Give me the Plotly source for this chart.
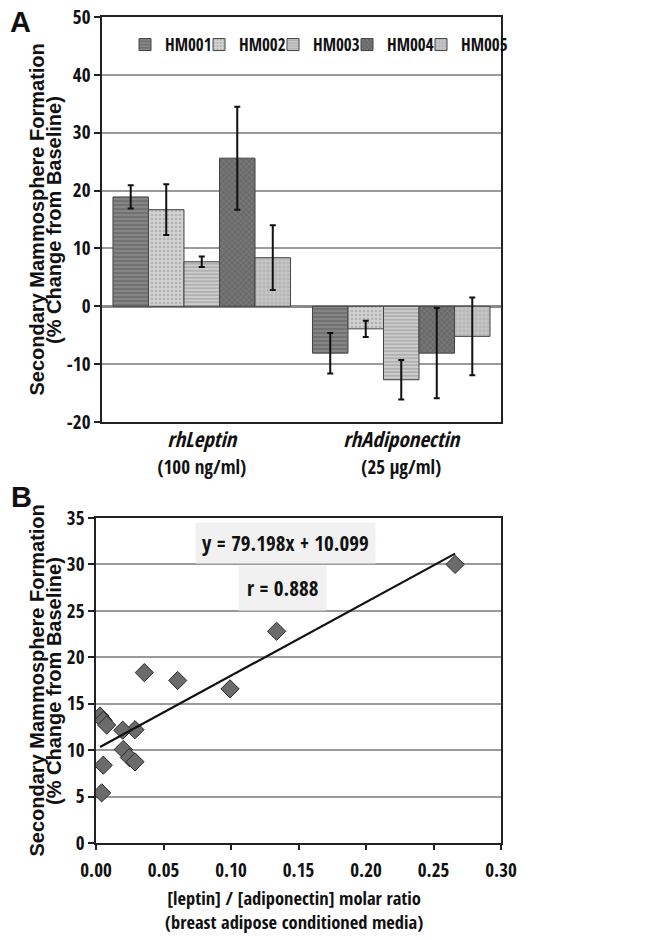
import plotly.graph_objects as go

# ---------------- data ----------------
series_names = ["HM001", "HM002", "HM003", "HM004", "HM005"]
categories = ["rhLeptin", "rhAdiponectin"]
category_labels = [
    "<i>rhLeptin</i><br><span style='font-size:19px'>(100 ng/ml)</span>",
    "<i>rhAdiponectin</i><br><span style='font-size:19px'>(25 μg/ml)</span>",
]
leptin_values = [18.9, 16.7, 7.7, 25.6, 8.4]
leptin_errors = [2.0, 4.4, 0.9, 8.9, 5.6]
adiponectin_values = [-8.1, -3.9, -12.7, -8.1, -5.2]
adiponectin_errors = [3.5, 1.4, 3.4, 7.8, 6.7]

ratio_values = [0.266, 0.1338, 0.0993, 0.0605, 0.0358, 0.0289, 0.0198, 0.0202,
                0.0247, 0.0289, 0.0030, 0.0054, 0.0079, 0.0054, 0.0042]
mammosphere_values = [30.0, 22.8, 16.6, 17.5, 18.35, 12.2, 12.15, 10.07,
                      9.2, 8.74, 13.67, 13.2, 12.7, 8.38, 5.4]
fit_slope = 79.198
fit_intercept = 10.099
r_value = 0.888

a_yticks = [-20, -10, 0, 10, 20, 30, 40, 50]
a_yticklabels = ["-20", "-10", "0", "10", "20", "30", "40", "50"]
b_xticks = [0.0, 0.05, 0.10, 0.15, 0.20, 0.25, 0.30]
b_yticks = [0, 5, 10, 15, 20, 25, 30, 35]

# ---------------- styles ----------------
W, H = 645, 940
NARROW = "Open Sans Condensed, Roboto Condensed, Liberation Sans, Arial, sans-serif"
REG = "Liberation Sans, Arial, sans-serif"
INK = "#111111"

styles = [
    dict(color="#727272", fg="#a9a9a9", shape="-", size=4, sol=0.35),
    dict(color="#d2d2d2", fg="#8f8f8f", shape=".", size=4, sol=0.35),
    dict(color="#cdcdcd", fg="#8a8a8a", shape="-", size=3.5, sol=0.45),
    dict(color="#6a6a6a", fg="#8e8e8e", shape="x", size=4, sol=0.4),
    dict(color="#c8c8c8", fg="#8a8a8a", shape="+", size=4, sol=0.3),
]

def px_x(p):
    return p / W

def px_y(p):
    return 1 - p / H

def fnt(size, fam=NARROW):
    return dict(family=fam, size=size, color=INK, weight="bold")

fig = go.Figure()

for i, name in enumerate(series_names):
    s = styles[i]
    fig.add_trace(go.Bar(
        name=name,
        x=categories,
        y=[leptin_values[i], adiponectin_values[i]],
        error_y=dict(type="data", array=[leptin_errors[i], adiponectin_errors[i]],
                     color=INK, thickness=2, width=3),
        marker=dict(color=s["color"], line=dict(color="#444444", width=1),
                    pattern=dict(shape=s["shape"], fgcolor=s["fg"], bgcolor=s["color"],
                                 size=s["size"], solidity=s["sol"])),
        legendwidth=(29 if i < len(series_names) - 1 else 60),
        xaxis="x", yaxis="y",
    ))

fig.add_trace(go.Scatter(
    x=ratio_values, y=mammosphere_values, mode="markers",
    marker=dict(symbol="diamond", size=14, color="#6b6b6b",
                line=dict(color="#2a2a2a", width=1)),
    xaxis="x2", yaxis="y2", showlegend=False,
))
x_lo, x_hi = min(ratio_values), max(ratio_values)
fig.add_trace(go.Scatter(
    x=[x_lo, x_hi], y=[fit_slope * x_lo + fit_intercept, fit_slope * x_hi + fit_intercept],
    mode="lines", line=dict(color=INK, width=2.2),
    xaxis="x2", yaxis="y2", showlegend=False,
))

axis_common = dict(showline=True, linecolor="#222222", linewidth=1.5, mirror=True,
                   automargin=False, ticklabeloverflow="allow", tickfont=fnt(19))

fig.update_layout(
    width=W, height=H,
    margin=dict(l=0, r=0, t=0, b=0),
    paper_bgcolor="white", plot_bgcolor="white",
    barmode="group", bargap=0.11, bargroupgap=0,
    font=fnt(19),
    xaxis=dict(domain=[px_x(102), px_x(501)], anchor="y", ticks="",
               tickvals=categories, ticktext=category_labels, showgrid=False,
               ticklabelstandoff=-2, **{**axis_common, "tickfont": fnt(21)}),
    yaxis=dict(domain=[px_y(422), px_y(17)], anchor="x", range=[-20, 50],
               tickvals=a_yticks, ticktext=a_yticklabels, ticks="outside", ticklen=6,
               tickcolor="#222222", tickwidth=1.5, showgrid=True, gridcolor="#9a9a9a",
               gridwidth=1.5, zeroline=True, zerolinecolor="#8a8a8a", zerolinewidth=2.5,
               **axis_common),
    xaxis2=dict(domain=[px_x(96), px_x(501)], anchor="y2", range=[0, 0.30],
                tickvals=b_xticks, tickformat=".2f", ticks="outside", ticklen=5,
                tickcolor="#222222", tickwidth=1.5, showgrid=False, zeroline=False,
                ticklabelstandoff=4, **axis_common),
    yaxis2=dict(domain=[px_y(843), px_y(518)], anchor="x2", range=[0, 35],
                tickvals=b_yticks, ticks="outside", ticklen=6, tickcolor="#222222",
                tickwidth=1.5, showgrid=True, gridcolor="#9a9a9a", gridwidth=1.5,
                zeroline=False, **axis_common),
    legend=dict(orientation="h", x=px_x(125), y=px_y(45), xanchor="left", yanchor="middle",
                entrywidth=29, bgcolor="rgba(0,0,0,0)", font=fnt(17)),
)

def note(text, x, y, size, fam=NARROW, angle=0, **kw):
    return dict(text=text, x=x, y=y, xref="paper", yref="paper", showarrow=False,
                xanchor="center", yanchor="middle", textangle=angle,
                font=fnt(size, fam), **kw)

ann = [
    note("A", px_x(20), px_y(22), 29, REG),
    note("B", px_x(21), px_y(497), 29, REG),
]
for cy in (220, 681):
    ann.append(note("Secondary Mammosphere Formation", px_x(36.5), px_y(cy), 20, REG, -90))
    ann.append(note("(% Change from Baseline)", px_x(54), px_y(cy), 20, REG, -90))
ann.append(note("[leptin] / [adiponectin] molar ratio<br>(breast adipose conditioned media)",
                px_x(294), px_y(909), 18.5))
ann.append(dict(text=f"y = {fit_slope:.3f}x + {fit_intercept:.3f}", x=0.14, y=32.3,
                xref="x2", yref="y2", showarrow=False, xanchor="center", yanchor="middle",
                bgcolor="#f1f1f1", borderpad=6, font=fnt(21)))
ann.append(dict(text=f"r = {r_value:.3f}", x=0.1385, y=27.45,
                xref="x2", yref="y2", showarrow=False, xanchor="center", yanchor="middle",
                bgcolor="#f1f1f1", borderpad=8, font=fnt(21)))
fig.update_layout(annotations=ann)

# remove the browser's default 8px page margin so the figure fills the window exactly
fig.write_html("out.html", config={"displayModeBar": False},
               post_script="document.body.style.margin='0';document.body.style.overflow='hidden';")
